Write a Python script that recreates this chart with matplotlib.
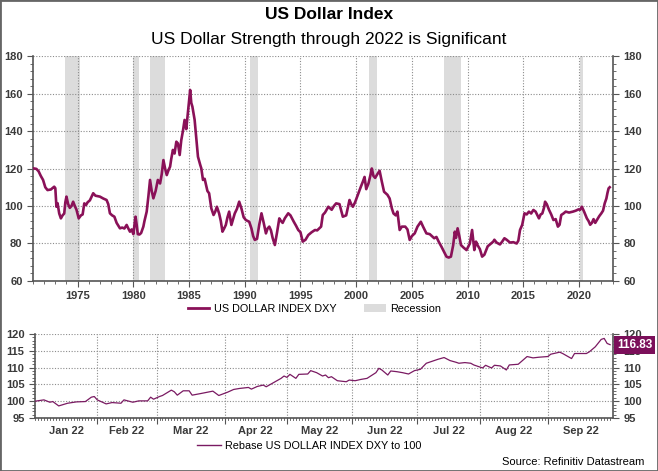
import numpy as np
import pandas as pd
from matplotlib import pyplot as plt
from matplotlib.lines import Line2D
from matplotlib.patches import Patch, Rectangle
from matplotlib.ticker import MultipleLocator

plt.rcParams["font.family"] = ["Liberation Sans", "DejaVu Sans"]

DXY_COLOR = "#8a1158"
REBASE_COLOR = "#7a1a62"
GRID_COLOR = "#8c8c8c"
TICK_COLOR = "#3a3a3a"

# long history (decimal year, index level)
dxy_years = [
    1971.0, 1971.3, 1971.5, 1971.7, 1971.9, 1972.1, 1972.3, 1972.6, 1972.9, 1973.0,
    1973.1, 1973.2, 1973.35, 1973.5, 1973.65, 1973.8, 1973.9, 1974.0, 1974.15, 1974.3,
    1974.45, 1974.6, 1974.75, 1974.9, 1975.1, 1975.3, 1975.45, 1975.6, 1975.75, 1975.9,
    1976.1, 1976.4, 1976.6, 1977.0, 1977.3, 1977.6, 1977.75, 1977.9, 1978.1, 1978.3,
    1978.5, 1978.8, 1979.0, 1979.2, 1979.4, 1979.55, 1979.7, 1979.85, 1980.0, 1980.2,
    1980.3, 1980.4, 1980.55, 1980.7, 1980.9, 1981.0, 1981.2, 1981.35, 1981.5, 1981.65,
    1981.8, 1982.0, 1982.2, 1982.4, 1982.55, 1982.7, 1982.85, 1983.0, 1983.15, 1983.3,
    1983.4, 1983.55, 1983.7, 1983.86, 1984.0, 1984.16, 1984.3, 1984.45, 1984.6, 1984.75,
    1984.9, 1985.1, 1985.2, 1985.3, 1985.5, 1985.65, 1985.8, 1986.0, 1986.1, 1986.25,
    1986.4, 1986.5, 1986.65, 1986.8, 1987.0, 1987.2, 1987.35, 1987.5, 1987.7, 1987.85,
    1988.0, 1988.15, 1988.3, 1988.45, 1988.6, 1988.8, 1989.0, 1989.1, 1989.3, 1989.5,
    1989.7, 1989.9, 1990.1, 1990.4, 1990.6, 1990.75, 1990.9, 1991.1, 1991.3, 1991.5,
    1991.7, 1991.9, 1992.05, 1992.2, 1992.35, 1992.5, 1992.7, 1992.9, 1993.1, 1993.25,
    1993.4, 1993.6, 1993.9, 1994.1, 1994.4, 1994.6, 1994.8, 1995.0, 1995.2, 1995.45,
    1995.7, 1996.0, 1996.3, 1996.5, 1996.7, 1996.85, 1997.0, 1997.2, 1997.5, 1997.8,
    1998.0, 1998.2, 1998.5, 1998.8, 1999.1, 1999.25, 1999.4, 1999.55, 1999.7, 1999.9,
    2000.2, 2000.4, 2000.6, 2000.75, 2000.9, 2001.1, 2001.3, 2001.4, 2001.55, 2001.7,
    2001.9, 2002.1, 2002.3, 2002.5, 2002.8, 2003.0, 2003.2, 2003.35, 2003.55, 2003.7,
    2003.9, 2004.1, 2004.4, 2004.6, 2004.8, 2005.0, 2005.25, 2005.5, 2005.8, 2006.0,
    2006.3, 2006.6, 2007.0, 2007.2, 2007.4, 2007.65, 2007.85, 2008.1, 2008.3, 2008.5,
    2008.7, 2008.85, 2008.95, 2009.1, 2009.25, 2009.4, 2009.6, 2009.9, 2010.2, 2010.4,
    2010.6, 2010.75, 2010.9, 2011.1, 2011.3, 2011.5, 2011.8, 2012.0, 2012.3, 2012.4,
    2012.6, 2012.9, 2013.1, 2013.3, 2013.5, 2013.8, 2014.1, 2014.4, 2014.55, 2014.7,
    2014.9, 2015.1, 2015.3, 2015.5, 2015.7, 2015.9, 2016.1, 2016.4, 2016.55, 2016.7,
    2016.85, 2016.95, 2017.1, 2017.3, 2017.5, 2017.7, 2017.9, 2018.1, 2018.25, 2018.4,
    2018.6, 2018.8, 2019.1, 2019.45, 2019.7, 2019.95, 2020.1, 2020.25, 2020.45, 2020.7,
    2020.85, 2021.0, 2021.15, 2021.3, 2021.45, 2021.6, 2021.8, 2022.0, 2022.15, 2022.3,
    2022.45, 2022.55, 2022.65, 2022.75,
]
dxy_values = [
    120.1, 119.8, 118.5, 116.0, 113.9, 110.0, 108.5, 108.8, 110.3, 109.5,
    99.6, 101.5, 96.0, 93.4, 95.0, 96.0, 102.0, 105.0, 101.0, 99.0,
    100.0, 102.3, 100.0, 98.0, 93.4, 95.0, 95.5, 101.4, 100.5, 102.0,
    103.0, 106.8, 105.5, 105.0, 104.0, 103.2, 101.0, 96.1, 95.0, 94.3,
    91.0, 88.1, 88.5, 88.0, 89.9, 88.0, 86.3, 87.5, 85.0, 94.3,
    90.0, 85.0, 84.8, 85.6, 89.0, 92.0, 97.0, 105.0, 113.9, 108.0,
    104.1, 108.0, 113.9, 112.0, 117.0, 124.5, 120.0, 116.5, 119.0, 121.0,
    125.0, 129.9, 128.0, 134.3, 133.4, 127.2, 135.0, 140.0, 145.9, 141.0,
    150.0, 161.9, 155.0, 153.0, 146.0, 136.0, 126.3, 122.0, 120.1, 113.9,
    114.5, 112.0, 108.0, 106.8, 98.7, 95.2, 97.0, 99.6, 96.0, 92.0,
    86.3, 88.0, 89.9, 94.0, 97.0, 89.9, 94.0, 96.0, 98.5, 102.3,
    98.7, 94.0, 92.5, 91.6, 88.0, 84.0, 81.9, 82.5, 90.0, 96.1,
    91.0, 85.4, 88.0, 89.0, 87.0, 83.0, 79.2, 86.0, 93.4, 92.0,
    91.0, 93.5, 96.1, 95.0, 91.6, 89.5, 87.2, 86.0, 81.0, 82.0,
    84.5, 86.0, 87.2, 87.0, 88.1, 89.0, 95.2, 96.5, 99.6, 98.0,
    100.0, 101.4, 101.0, 94.3, 95.0, 99.0, 103.2, 101.0, 99.6, 102.0,
    106.8, 110.0, 113.0, 115.5, 109.0, 112.0, 117.0, 120.0, 116.0, 115.0,
    117.0, 118.8, 113.0, 107.6, 106.0, 104.0, 98.7, 96.0, 95.0, 97.0,
    87.2, 89.0, 89.0, 87.5, 81.9, 84.0, 85.4, 89.0, 91.6, 89.0,
    85.4, 85.0, 82.8, 83.5, 81.0, 78.3, 76.0, 73.0, 72.5, 73.0,
    79.0, 86.3, 83.0, 88.1, 84.0, 79.2, 78.0, 76.5, 80.0, 87.2,
    76.5, 81.0, 79.0, 77.0, 73.0, 74.0, 78.5, 79.5, 81.0, 82.0,
    80.5, 79.5, 81.0, 82.8, 82.0, 80.5, 80.7, 80.0, 81.5, 87.2,
    90.0, 96.1, 95.5, 97.0, 96.0, 97.9, 97.0, 93.4, 95.5, 96.0,
    99.0, 102.3, 101.0, 98.0, 95.5, 92.5, 93.0, 89.0, 90.0, 95.2,
    96.0, 97.0, 96.5, 97.0, 97.5, 98.2, 98.0, 99.6, 97.0, 93.4,
    92.0, 90.0, 91.0, 93.0, 91.0, 92.5, 94.5, 96.1, 97.5, 101.4,
    104.0, 107.0, 109.4, 110.0,
]

recession_start = [1973.83, 1980.0, 1981.5, 1990.5, 2001.17, 2007.92, 2020.08]
recession_end = [1975.17, 1980.5, 1982.83, 1991.17, 2001.83, 2009.42, 2020.33]

# 2022 rebased to 100
rebase_dates = [
    "2022-01-03", "2022-01-06", "2022-01-10", "2022-01-11", "2022-01-13", "2022-01-18",
    "2022-01-21", "2022-01-26", "2022-01-28", "2022-01-31", "2022-02-01", "2022-02-04",
    "2022-02-08", "2022-02-11", "2022-02-14", "2022-02-17", "2022-02-21", "2022-02-24",
    "2022-02-25", "2022-02-28", "2022-03-02", "2022-03-03", "2022-03-08", "2022-03-09",
    "2022-03-10", "2022-03-14", "2022-03-16", "2022-03-17", "2022-03-22", "2022-03-28",
    "2022-03-30", "2022-04-04", "2022-04-06", "2022-04-08", "2022-04-13", "2022-04-14",
    "2022-04-18", "2022-04-20", "2022-04-21", "2022-04-22", "2022-04-28", "2022-04-29",
    "2022-05-02", "2022-05-03", "2022-05-05", "2022-05-06", "2022-05-11", "2022-05-12",
    "2022-05-16", "2022-05-18", "2022-05-19", "2022-05-20", "2022-05-23", "2022-05-25",
    "2022-05-30", "2022-05-31", "2022-06-02", "2022-06-06", "2022-06-08", "2022-06-13",
    "2022-06-14", "2022-06-15", "2022-06-17", "2022-06-20", "2022-06-22", "2022-06-24",
    "2022-06-28", "2022-06-30", "2022-07-04", "2022-07-06", "2022-07-07", "2022-07-12",
    "2022-07-14", "2022-07-18", "2022-07-20", "2022-07-21", "2022-07-25", "2022-07-27",
    "2022-07-28", "2022-08-02", "2022-08-03", "2022-08-05", "2022-08-08", "2022-08-10",
    "2022-08-12", "2022-08-15", "2022-08-18", "2022-08-23", "2022-08-25", "2022-08-29",
    "2022-09-01", "2022-09-02", "2022-09-07", "2022-09-08", "2022-09-13", "2022-09-14",
    "2022-09-20", "2022-09-21", "2022-09-23", "2022-09-27", "2022-09-28", "2022-09-29",
    "2022-09-30",
]
rebase_values = [
    100.0, 100.4, 99.7, 99.9, 98.6, 99.4,
    99.8, 99.9, 101.2, 101.4, 100.4, 99.2,
    99.6, 99.4, 100.4, 99.7, 100.1, 100.1,
    101.2, 100.6, 101.4, 101.7, 103.3, 102.8,
    101.8, 103.1, 103.1, 101.8, 102.3, 103.0,
    101.7, 102.7, 103.5, 103.8, 104.1, 103.6,
    104.4, 104.8, 104.3, 104.8, 106.8, 107.5,
    107.1, 108.0, 106.8, 108.0, 108.1, 109.1,
    108.5, 107.5, 107.8, 107.0, 107.3, 106.1,
    105.8, 106.3, 106.1, 106.5, 106.8, 108.5,
    109.8, 109.3, 107.8, 109.0, 108.8, 108.5,
    108.1, 109.1, 109.5, 111.3, 111.6, 112.5,
    113.0, 112.1, 111.6, 111.3, 111.5, 111.3,
    110.8, 109.9, 110.7, 109.9, 110.7, 110.5,
    109.3, 110.8, 111.0, 113.3, 112.9, 113.1,
    113.3, 114.0, 114.6, 114.2, 112.7, 114.2,
    114.2, 114.7, 116.2, 118.4, 118.7, 117.2,
    116.83,
]

month_labels = ["Jan 22", "Feb 22", "Mar 22", "Apr 22", "May 22",
                "Jun 22", "Jul 22", "Aug 22", "Sep 22"]


def style_axis(ax) -> None:
    ax.spines["top"].set_visible(False)
    for side in ("left", "right", "bottom"):
        ax.spines[side].set_color("#555555")
        ax.spines[side].set_linewidth(1.2)
    ax.tick_params(which="both", direction="out", colors="#555555",
                   labelcolor=TICK_COLOR, labelsize=8,
                   left=True, right=True, labelleft=True, labelright=True)
    ax.tick_params(which="major", length=4)
    ax.tick_params(which="minor", length=2)
    for label in ax.get_xticklabels() + ax.get_yticklabels():
        label.set_fontweight("bold")
    ax.grid(True, which="major", linestyle=(0, (1, 1.5)), color=GRID_COLOR, linewidth=0.8)
    ax.set_axisbelow(True)


def plot_history(ax) -> None:
    for start, end in zip(recession_start, recession_end):
        ax.axvspan(start, end, color="#dcdcdc", linewidth=0, zorder=0)
    ax.plot(dxy_years, dxy_values, color=DXY_COLOR, linewidth=1.9, zorder=3)

    ax.set_xlim(1971.0, 2023.05)
    ax.set_ylim(60, 180)
    ax.set_xticks(range(1975, 2021, 5))
    ax.xaxis.set_minor_locator(MultipleLocator(1))
    ax.set_yticks(range(60, 181, 20))
    ax.yaxis.set_minor_locator(MultipleLocator(4))
    style_axis(ax)


def plot_rebase(ax) -> None:
    start = np.datetime64("2022-01-03")
    x = np.busday_count(start, np.array(rebase_dates, dtype="datetime64[D]"))
    ax.plot(x, rebase_values, color=REBASE_COLOR, linewidth=0.9, zorder=3)

    month_starts = pd.date_range("2022-01-01", "2022-10-01", freq="MS")
    first_days = np.busday_offset(np.array(month_starts, dtype="datetime64[D]"), 0, roll="forward")
    bounds = np.busday_count(start, first_days)
    ax.set_xlim(0, bounds[-1])
    ax.set_ylim(95, 120)
    ax.set_xticks(bounds[1:-1])
    ax.set_xticklabels([])
    ax.set_xticks((bounds[:-1] + bounds[1:]) / 2, minor=True)
    ax.set_xticklabels(month_labels, minor=True)
    ax.set_yticks(range(95, 121, 5))
    ax.yaxis.set_minor_locator(MultipleLocator(1))
    style_axis(ax)
    ax.tick_params(axis="x", which="minor", length=0, pad=6)
    for label in ax.get_xticklabels(minor=True):
        label.set_fontweight("bold")

    # daily tick marks along the bottom
    for day in range(bounds[-1]):
        ax.plot([day, day], [0, -0.025], transform=ax.get_xaxis_transform(),
                color="#555555", linewidth=0.6, clip_on=False)

    last = rebase_values[-1]
    ax.annotate(f"{last:.2f}", xy=(1.0, last), xycoords=ax.get_yaxis_transform(),
                xytext=(3, 0), textcoords="offset points", va="center", ha="left",
                color="white", fontsize=8.5, fontweight="bold", zorder=5,
                bbox=dict(boxstyle="square,pad=0.25", fc="#7b0f5a", ec="none"))


def main() -> None:
    fig = plt.figure(figsize=(6.58, 4.71), dpi=100)
    fig.patches.append(Rectangle((0, 0), 1, 1, transform=fig.transFigure, fill=False,
                                 edgecolor="#666666", linewidth=2))

    fig.text(0.5, 0.97, "US Dollar Index", ha="center", va="center",
             fontsize=12.5, fontweight="bold")
    fig.text(0.5, 0.917, "US Dollar Strength through 2022 is Significant",
             ha="center", va="center", fontsize=12.5)

    ax_top = fig.add_axes([0.0502, 0.4034, 0.8815, 0.4777])
    plot_history(ax_top)

    ax_bottom = fig.add_axes([0.0532, 0.1125, 0.8785, 0.1783])
    plot_rebase(ax_bottom)

    top_handles = [Line2D([], [], color=DXY_COLOR, linewidth=2),
                   Patch(facecolor="#dcdcdc", edgecolor="none")]
    fig.legend(top_handles, ["US DOLLAR INDEX DXY", "Recession"], loc="center",
               bbox_to_anchor=(0.478, 0.344), ncol=2, frameon=False, fontsize=7.8,
               handlelength=2.0, columnspacing=2.6, handletextpad=0.4)
    fig.legend([Line2D([], [], color=REBASE_COLOR, linewidth=1)],
               ["Rebase US DOLLAR INDEX DXY to 100"], loc="center",
               bbox_to_anchor=(0.47, 0.053), frameon=False, fontsize=7.8,
               handlelength=2.2, handletextpad=0.4)
    fig.text(0.98, 0.019, "Source: Refinitiv Datastream", ha="right", va="center", fontsize=8)

    fig.savefig("out.png", dpi=100)


if __name__ == "__main__":
    main()
